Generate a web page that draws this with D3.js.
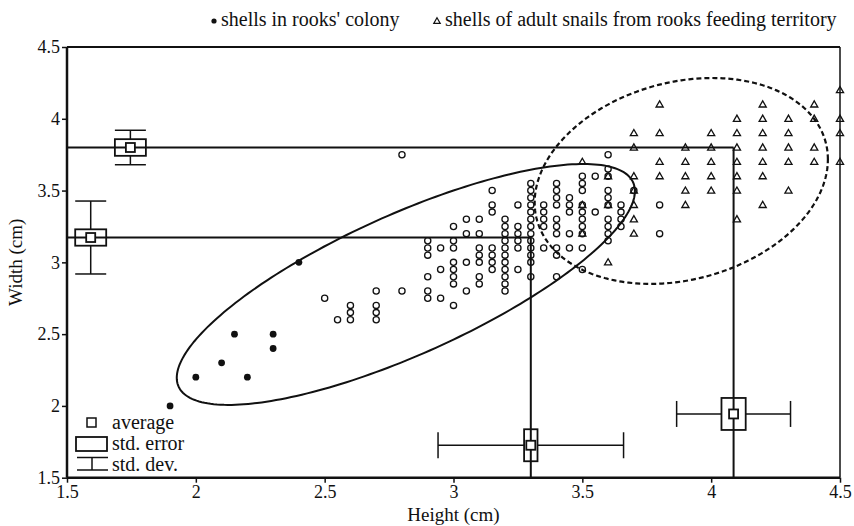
<!DOCTYPE html>
<html><head><meta charset="utf-8">
<script src="https://cdn.jsdelivr.net/npm/d3@7"></script>
<style>
html,body{margin:0;padding:0;background:#fff;}
svg{display:block;font-family:"Liberation Serif","DejaVu Serif",serif;}
</style></head>
<body>
<svg id="chart" width="854" height="526"></svg>
<script>
// ---- data ----
const xTicks = [1.5, 2, 2.5, 3, 3.5, 4, 4.5];
const yTicks = [1.5, 2, 2.5, 3, 3.5, 4, 4.5];

// filled dots: shells in rooks' colony [height, width]
const colonyShells = [[1.9,2.0],[2.0,2.2],[2.1,2.3],[2.15,2.5],[2.2,2.2],[2.3,2.5],[2.3,2.4],[2.4,3.0]];

// open circles, grouped by height: [height, [widths]]
const openCircleColumns = [
  [2.5,[2.75]],
  [2.55,[2.6]],
  [2.6,[2.7,2.65,2.6]],
  [2.7,[2.8,2.7,2.65,2.6]],
  [2.8,[3.75,2.8]],
  [2.9,[3.15,3.1,3.05,2.9,2.8,2.75]],
  [2.95,[3.1,2.95,2.75]],
  [3.0,[3.25,3.15,3.1,3.0,2.95,2.9,2.85,2.7]],
  [3.05,[3.3,3.2,3.0,2.8]],
  [3.1,[3.3,3.2,3.1,3.05,3.0,2.9,2.85]],
  [3.15,[3.5,3.4,3.35,3.1,3.05,3.0,2.95]],
  [3.2,[3.3,3.25,3.2,3.15,3.1,3.05,3.0,2.95,2.9,2.85,2.8]],
  [3.25,[3.4,3.25,3.2,3.15,3.1,2.95]],
  [3.3,[3.55,3.5,3.45,3.4,3.35,3.3,3.25,3.2,3.15,3.1,3.05,3.0,2.9]],
  [3.35,[3.4,3.35,3.3,3.25,3.1]],
  [3.4,[3.55,3.5,3.45,3.4,3.3,3.25,3.2,3.1,3.05,2.9]],
  [3.45,[3.45,3.4,3.35,3.2,3.1]],
  [3.5,[3.6,3.55,3.5,3.4,3.35,3.3,3.25,3.2,3.1,2.95]],
  [3.55,[3.6,3.35]],
  [3.6,[3.75,3.65,3.6,3.5,3.45,3.4,3.3,3.25,3.2,3.15]],
  [3.65,[3.4,3.35,3.3,3.25]],
  [3.7,[3.5]],
  [3.8,[3.4,3.2]]
];

// triangles: shells of adult snails from rooks feeding territory
const triangleColumns = [
  [3.5,[3.7,3.4,3.2]],
  [3.6,[3.6,3.4,3.0]],
  [3.7,[3.9,3.8,3.6,3.5,3.4,3.3,3.2]],
  [3.8,[4.1,3.9,3.7,3.6]],
  [3.9,[3.8,3.7,3.6,3.5,3.4]],
  [4.0,[3.9,3.8,3.7,3.6,3.5]],
  [4.1,[4.0,3.9,3.8,3.7,3.6,3.5,3.3]],
  [4.2,[4.1,4.0,3.9,3.8,3.7,3.6,3.4]],
  [4.3,[4.0,3.9,3.8,3.7,3.5]],
  [4.4,[4.1,4.0,3.8,3.7]],
  [4.5,[4.2,4.0,3.9,3.7]]
];

// group means
const meanHeight = [3.30, 4.087];   // circles, triangles
const meanWidth  = [3.173, 3.80];
// width summary markers (placed at height position)
const widthMarkerPos = [1.592, 1.746];
const widthSE = [0.057, 0.058];
const widthSD = [0.254, 0.12];
// height summary markers (placed at width position)
const heightMarkerPos = [1.726, 1.944];
const heightSE = [0.026, 0.047];
const heightSD = [0.36, 0.221];

// ellipses: center, half x-range, half y-range, correlation
const ellipseCenterX = [2.815, 3.884];
const ellipseCenterY = [2.846, 3.567];
const ellipseRx = [0.889, 0.569];
const ellipseRy = [0.839, 0.717];
const ellipseRho = [0.7745, 0.21];

// ---- drawing ----
const svg = d3.select("#chart");
const x = d3.scaleLinear().domain([1.5, 4.5]).range([67, 840]);
const y = d3.scaleLinear().domain([1.5, 4.5]).range([477.7, 47]);
const ink = "#111";

// frame top/right
svg.append("line").attr("x1", x(1.5)).attr("x2", x(4.5)).attr("y1", y(4.5)).attr("y2", y(4.5))
  .attr("stroke", ink).attr("stroke-width", 2);
svg.append("line").attr("x1", x(4.5)).attr("x2", x(4.5)).attr("y1", y(4.5)).attr("y2", y(1.5))
  .attr("stroke", ink).attr("stroke-width", 1.5);

// axes
const fmt = d => String(d);
const xAxis = svg.append("g").attr("transform", `translate(0,${y(1.5)})`)
  .call(d3.axisBottom(x).tickValues(xTicks).tickFormat(fmt).tickSize(5).tickPadding(3));
const yAxis = svg.append("g").attr("transform", `translate(${x(1.5)},0)`)
  .call(d3.axisLeft(y).tickValues(yTicks).tickFormat(fmt).tickSize(5).tickPadding(2));
[xAxis, yAxis].forEach(g => {
  g.select(".domain").attr("stroke", ink).attr("stroke-width", 2.5);
  g.selectAll(".tick line").attr("stroke", ink).attr("stroke-width", 1.5);
  g.selectAll(".tick text").attr("fill", "#111").style("font-size", "18px")
    .style("font-family", '"Liberation Serif", serif');
});
xAxis.select(".domain").attr("d", `M${x(1.5)},0H${x(4.5)}`);
yAxis.select(".domain").attr("d", `M0,${y(1.5)}V${y(4.5)}`);

svg.append("text").attr("x", (x(1.5)+x(4.5))/2).attr("y", 521).attr("text-anchor", "middle")
  .style("font-size", "19px").attr("fill", "#111").text("Height (cm)");
svg.append("text").attr("transform", `translate(22,${(y(1.5)+y(4.5))/2}) rotate(-90)`)
  .attr("text-anchor", "middle").style("font-size", "19px").attr("fill", "#111").text("Width (cm)");

// ellipses
const line = d3.line().x(d => x(d[0])).y(d => y(d[1])).curve(d3.curveLinearClosed);
function ellipsePts(i) {
  const pts = [];
  const s = Math.sqrt(1 - ellipseRho[i]*ellipseRho[i]);
  for (let k = 0; k < 240; k++) {
    const t = k / 240 * 2 * Math.PI;
    pts.push([ellipseCenterX[i] + ellipseRx[i]*Math.cos(t),
              ellipseCenterY[i] + ellipseRy[i]*(ellipseRho[i]*Math.cos(t) + s*Math.sin(t))]);
  }
  return pts;
}
svg.append("path").attr("d", line(ellipsePts(0))).attr("fill", "none").attr("stroke", ink).attr("stroke-width", 2);
svg.append("path").attr("d", line(ellipsePts(1))).attr("fill", "none").attr("stroke", ink)
  .attr("stroke-width", 2.2).attr("stroke-dasharray", "5,3");

// mean lines
for (let i = 0; i < 2; i++) {
  svg.append("line").attr("x1", x(1.5)).attr("x2", x(meanHeight[i])).attr("y1", y(meanWidth[i])).attr("y2", y(meanWidth[i]))
    .attr("stroke", ink).attr("stroke-width", 2);
  svg.append("line").attr("x1", x(meanHeight[i])).attr("x2", x(meanHeight[i])).attr("y1", y(meanWidth[i])).attr("y2", y(1.5))
    .attr("stroke", ink).attr("stroke-width", 2);
}

// points
const openPts = openCircleColumns.flatMap(([h, ws]) => ws.map(w => [h, w]));
const triPts = triangleColumns.flatMap(([h, ws]) => ws.map(w => [h, w]));
svg.append("g").selectAll("circle").data(openPts).join("circle")
  .attr("cx", d => x(d[0])).attr("cy", d => y(d[1])).attr("r", 3.1)
  .attr("fill", "none").attr("stroke", ink).attr("stroke-width", 1.3);
const tri = d3.symbol().type(d3.symbolTriangle).size(22);
svg.append("g").selectAll("path").data(triPts).join("path")
  .attr("transform", d => `translate(${x(d[0])},${y(d[1])+0.5})`).attr("d", tri)
  .attr("fill", "none").attr("stroke", ink).attr("stroke-width", 1.3);
svg.append("g").selectAll("circle").data(colonyShells).join("circle")
  .attr("cx", d => x(d[0])).attr("cy", d => y(d[1])).attr("r", 3.4).attr("fill", ink);

// summary markers: width (vertical)
for (let i = 0; i < 2; i++) {
  const cx = x(widthMarkerPos[i]), cy = y(meanWidth[i]);
  const g = svg.append("g").attr("stroke", ink).attr("fill", "none");
  g.append("line").attr("x1", cx).attr("x2", cx).attr("y1", y(meanWidth[i]+widthSD[i])).attr("y2", y(meanWidth[i]-widthSD[i])).attr("stroke-width", 1.5);
  [widthSD[i], -widthSD[i]].forEach(v => g.append("line").attr("x1", cx-15.5).attr("x2", cx+15.5)
    .attr("y1", y(meanWidth[i]+v)).attr("y2", y(meanWidth[i]+v)).attr("stroke-width", 1.5));
  g.append("rect").attr("x", cx-15.5).attr("width", 31).attr("y", y(meanWidth[i]+widthSE[i]))
    .attr("height", y(meanWidth[i]-widthSE[i]) - y(meanWidth[i]+widthSE[i])).attr("fill", "#fff").attr("stroke-width", 1.8);
  g.append("line").attr("x1", cx-15.5).attr("x2", cx+15.5).attr("y1", cy).attr("y2", cy).attr("stroke-width", 2);
  g.append("rect").attr("x", cx-4.5).attr("y", cy-4.5).attr("width", 9).attr("height", 9).attr("fill", "#fff").attr("stroke-width", 1.8);
}
// summary markers: height (horizontal)
for (let i = 0; i < 2; i++) {
  const cx = x(meanHeight[i]), cy = y(heightMarkerPos[i]);
  const g = svg.append("g").attr("stroke", ink).attr("fill", "none");
  g.append("line").attr("y1", cy).attr("y2", cy).attr("x1", x(meanHeight[i]-heightSD[i])).attr("x2", x(meanHeight[i]+heightSD[i])).attr("stroke-width", 1.5);
  [heightSD[i], -heightSD[i]].forEach(v => g.append("line").attr("y1", cy-13).attr("y2", cy+13)
    .attr("x1", x(meanHeight[i]+v)).attr("x2", x(meanHeight[i]+v)).attr("stroke-width", 1.5));
  g.append("rect").attr("y", cy-16).attr("height", 32).attr("x", x(meanHeight[i]-heightSE[i]))
    .attr("width", x(meanHeight[i]+heightSE[i]) - x(meanHeight[i]-heightSE[i])).attr("fill", "#fff").attr("stroke-width", 1.8);
  g.append("line").attr("x1", cx).attr("x2", cx).attr("y1", cy-16).attr("y2", cy+16).attr("stroke-width", 2);
  g.append("rect").attr("x", cx-4.5).attr("y", cy-4.5).attr("width", 9).attr("height", 9).attr("fill", "#fff").attr("stroke-width", 1.8);
}

// bottom-left legend
const lg = svg.append("g").attr("stroke", ink).attr("fill", "none");
lg.append("rect").attr("x", 87).attr("y", 418).attr("width", 9).attr("height", 9).attr("stroke-width", 1.5);
lg.append("rect").attr("x", 76).attr("y", 437).attr("width", 31).attr("height", 14).attr("stroke-width", 1.8);
lg.append("line").attr("x1", 77).attr("x2", 108).attr("y1", 457.5).attr("y2", 457.5).attr("stroke-width", 1.5);
lg.append("line").attr("x1", 77).attr("x2", 108).attr("y1", 470).attr("y2", 470).attr("stroke-width", 1.5);
lg.append("line").attr("x1", 92).attr("x2", 92).attr("y1", 457.5).attr("y2", 470).attr("stroke-width", 1.5);
const legTxt = [["average", 429], ["std. error", 450], ["std. dev.", 471]];
svg.append("g").selectAll("text").data(legTxt).join("text")
  .attr("x", 112).attr("y", d => d[1]).style("font-size", "20px").attr("fill", "#111").text(d => d[0]);

// top legend
svg.append("circle").attr("cx", 214).attr("cy", 21).attr("r", 2.6).attr("fill", ink);
svg.append("text").attr("x", 221).attr("y", 26).style("font-size", "20px").attr("fill", "#111").text("shells in rooks' colony");
svg.append("path").attr("transform", "translate(437,21.5)").attr("d", d3.symbol().type(d3.symbolTriangle).size(18))
  .attr("fill", "none").attr("stroke", ink).attr("stroke-width", 1.2);
svg.append("text").attr("x", 445).attr("y", 26).style("font-size", "20px").attr("fill", "#111")
  .text("shells of adult snails from rooks feeding territory");
</script>
</body></html>
